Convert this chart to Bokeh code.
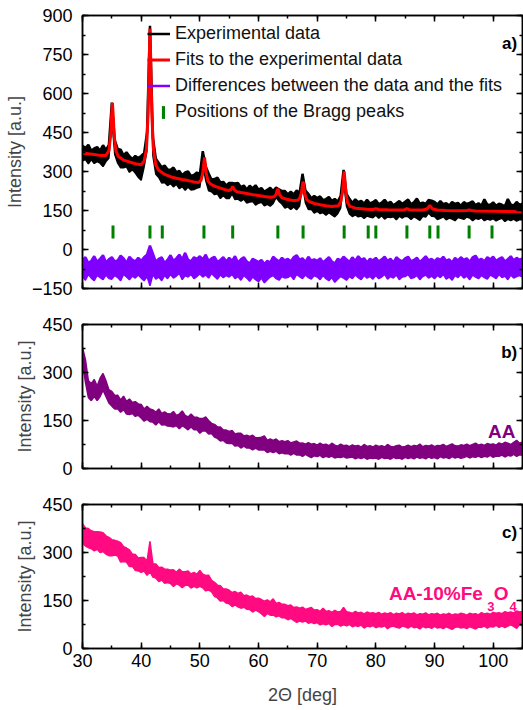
import numpy as np
from bokeh.plotting import figure
from bokeh.models import (Range1d, SingleIntervalTicker, LinearAxis, Legend,
                          LegendItem, Label, ColumnDataSource,
                          CustomLabelingPolicy)
from bokeh.layouts import column
from bokeh.embed import file_html
from bokeh.resources import INLINE

FONT = "Liberation Sans"

# ---------------- data ----------------
two_theta = np.round(np.arange(30.0, 105.001, 0.5), 2)   # 151 sampling positions

# panel a: experimental data (upper / lower edge of the noisy trace)
exp_hi = [399, 390, 403, 380, 389, 394, 380, 401, 382, 403,
          565, 420, 387, 384, 362, 374, 359, 348, 360, 352,
          360, 370, 450, 860, 430, 349, 333, 316, 323, 308,
          306, 315, 297, 302, 286, 296, 300, 283, 287, 296,
          289, 378, 319, 292, 268, 271, 276, 258, 260, 246,
          256, 256, 254, 256, 240, 246, 231, 245, 235, 247,
          230, 236, 222, 230, 237, 225, 238, 231, 225, 225,
          212, 222, 212, 227, 217, 291, 227, 214, 197, 206,
          198, 204, 190, 194, 202, 187, 194, 184, 205, 306,
          214, 195, 179, 193, 182, 187, 176, 191, 177, 182,
          190, 174, 180, 191, 177, 183, 170, 178, 186, 175,
          184, 192, 174, 182, 196, 176, 180, 175, 190, 188,
          183, 173, 186, 174, 178, 169, 183, 175, 179, 168,
          182, 175, 179, 185, 170, 178, 168, 193, 173, 171,
          181, 168, 176, 172, 166, 194, 173, 169, 183, 171,
          177]
exp_lo = [341, 346, 330, 346, 331, 338, 332, 319, 338, 351,
          500, 365, 332, 314, 314, 318, 297, 307, 294, 278,
          266, 317, 382, 790, 360, 289, 277, 256, 258, 246,
          254, 241, 251, 234, 242, 228, 240, 229, 231, 236,
          239, 332, 265, 226, 222, 211, 214, 196, 208, 196,
          196, 214, 192, 194, 186, 194, 179, 183, 185, 171,
          178, 182, 168, 174, 167, 177, 200, 185, 175, 159,
          164, 154, 164, 153, 167, 249, 179, 154, 155, 140,
          148, 138, 142, 132, 142, 133, 126, 138, 159, 262,
          166, 137, 127, 133, 126, 129, 120, 129, 125, 122,
          132, 120, 130, 117, 125, 123, 126, 114, 128, 121,
          128, 126, 116, 126, 120, 112, 128, 125, 140, 128,
          127, 115, 120, 126, 114, 121, 117, 111, 123, 120,
          116, 125, 121, 111, 120, 116, 122, 111, 117, 113,
          119, 110, 116, 120, 108, 116, 111, 117, 109, 115,
          113]

# panel a: fit
fit_x = [30.0, 31.0, 32.0, 33.0, 34.0, 34.5, 34.8, 34.95, 35.1, 35.25,
         35.4, 35.7, 36.1, 37.0, 38.0, 39.0, 40.0, 40.5, 40.9, 41.2,
         41.35, 41.5, 41.65, 41.8, 42.1, 42.5, 43.0, 44.0, 45.0, 46.0,
         47.0, 48.0, 49.0, 49.8, 50.2, 50.5, 50.65, 50.8, 50.95, 51.1,
         51.4, 51.8, 52.5, 53.5, 54.5, 55.0, 55.3, 55.45, 55.6, 55.75,
         55.9, 56.3, 57.0, 58.0, 59.0, 60.0, 61.0, 62.0, 62.7, 63.0,
         63.15, 63.3, 63.45, 63.6, 64.0, 65.0, 66.0, 66.6, 67.0, 67.3,
         67.45, 67.6, 67.75, 67.9, 68.2, 68.6, 69.5, 70.5, 71.5, 72.5,
         73.6, 74.0, 74.3, 74.45, 74.6, 74.75, 74.9, 75.2, 75.6, 76.5,
         77.5, 78.5, 79.5, 80.0, 80.5, 82.0, 84.0, 84.9, 85.3, 85.7,
         86.5, 88.0, 88.7, 89.0, 89.2, 89.4, 89.7, 90.5, 92.0, 94.0,
         95.5, 95.9, 96.3, 97.0, 100.0, 102.0, 105.0]
fit_y = [371, 368, 365, 362, 362, 380, 440, 510, 564, 508,
         438, 378, 358, 344, 337, 330, 326, 340, 385, 530,
         705, 850, 705, 528, 385, 325, 305, 289, 280, 274,
         269, 265, 260, 258, 266, 294, 326, 354, 325, 292,
         263, 252, 244, 236, 229, 227, 230, 236, 242, 236,
         229, 222, 219, 215, 211, 208, 204, 201, 203, 212,
         225, 234, 224, 210, 199, 192, 188, 189, 196, 216,
         240, 262, 240, 214, 193, 185, 177, 172, 168, 165,
         168, 182, 217, 262, 300, 262, 216, 180, 166, 159,
         157, 155, 154, 157, 154, 153, 152, 153, 157, 153,
         152, 152, 156, 164, 170, 164, 156, 152, 150, 149,
         150, 152, 150, 148, 147, 146, 145]

# panel a: differences (upper / lower edge)
diff_hi = [-40, -30, -52, -44, -26, -48, -36, -22, -50, -38,
           -30, -46, -42, -24, -34, -52, -28, -40, -46, -32,
           -44, -30, -20, 15, -16, -48, -36, -30, -52, -40,
           -22, -44, -34, -20, -38, -13, -40, -46, -30, -36,
           -26, -38, -20, -44, -34, -28, -48, -40, -30, -46,
           -32, -44, -26, -50, -38, -30, -46, -54, -36, -42,
           -48, -40, -56, -44, -50, -28, -38, -46, -32, -42,
           -36, -46, -30, -22, -40, -34, -48, -28, -42, -38,
           -44, -34, -50, -40, -30, -46, -54, -36, -42, -28,
           -38, -48, -30, -44, -26, -40, -34, -50, -36, -42,
           -32, -46, -38, -28, -44, -36, -50, -30, -40, -46,
           -34, -28, -46, -40, -32, -48, -38, -26, -42, -36,
           -46, -34, -40, -28, -44, -38, -50, -32, -42, -30,
           -40, -34, -48, -30, -24, -42, -36, -46, -30, -38,
           -28, -44, -36, -30, -46, -38, -26, -42, -32, -40,
           -34]
diff_lo = [-104, -118, -96, -110, -120, -100, -108, -116, -98, -112,
           -114, -100, -108, -120, -96, -106, -116, -102, -110, -98,
           -110, -120, -104, -140, -96, -114, -106, -120, -100, -112,
           -96, -110, -102, -92, -116, -100, -106, -96, -112, -104,
           -94, -106, -98, -110, -92, -104, -114, -98, -108, -100,
           -106, -96, -112, -104, -118, -100, -110, -122, -106, -116,
           -124, -110, -128, -116, -106, -100, -112, -118, -104, -110,
           -108, -100, -116, -96, -104, -112, -98, -108, -114, -100,
           -106, -116, -100, -112, -120, -108, -126, -114, -104, -110,
           -118, -104, -112, -98, -108, -116, -100, -110, -104, -114,
           -100, -112, -106, -96, -114, -104, -110, -98, -116, -106,
           -104, -96, -112, -108, -100, -116, -104, -98, -110, -102,
           -112, -100, -108, -96, -114, -106, -118, -100, -108, -96,
           -110, -102, -116, -98, -106, -112, -100, -108, -114, -98,
           -104, -112, -96, -108, -102, -116, -98, -110, -104, -100,
           -106]

# panel a: Bragg peak positions
bragg_pos = [35.2, 41.5, 43.6, 50.7, 55.6, 63.3, 67.6, 74.6, 78.7, 80.0,
             85.3, 89.2, 90.6, 95.9, 99.8]
bragg_level = 67

# panel b: AA (upper / lower edge)
aa_hi = [378, 340, 275, 265, 278, 258, 282, 297, 274, 246,
         241, 228, 229, 214, 226, 210, 217, 206, 209, 202,
         200, 186, 194, 186, 183, 176, 186, 172, 177, 171,
         170, 178, 166, 170, 180, 166, 161, 170, 161, 160,
         156, 156, 161, 150, 141, 138, 130, 130, 120, 120,
         116, 119, 108, 110, 110, 102, 104, 100, 104, 96,
         96, 98, 102, 88, 92, 88, 92, 84, 87, 84,
         87, 80, 83, 86, 79, 80, 76, 81, 76, 78,
         73, 79, 74, 76, 71, 79, 73, 70, 76, 71,
         73, 68, 74, 70, 72, 67, 75, 69, 71, 67,
         73, 69, 71, 67, 75, 69, 67, 71, 73, 67,
         69, 73, 68, 72, 70, 76, 68, 72, 70, 74,
         68, 72, 71, 75, 69, 73, 77, 71, 70, 74,
         72, 76, 71, 75, 79, 73, 76, 72, 78, 75,
         77, 73, 80, 76, 82, 79, 75, 82, 88, 79,
         83]
aa_lo = [330, 270, 222, 212, 225, 212, 225, 245, 225, 205,
         195, 186, 187, 176, 184, 170, 169, 172, 163, 166,
         158, 148, 154, 146, 145, 136, 146, 136, 137, 133,
         132, 130, 134, 124, 134, 128, 121, 130, 121, 122,
         110, 118, 117, 108, 109, 98, 94, 86, 88, 80,
         78, 79, 70, 72, 64, 70, 64, 64, 58, 64,
         58, 58, 58, 50, 54, 50, 54, 46, 49, 46,
         47, 42, 47, 42, 43, 38, 44, 39, 34, 40,
         37, 41, 34, 38, 35, 39, 33, 36, 34, 37,
         33, 34, 36, 30, 34, 31, 35, 29, 33, 31,
         33, 29, 35, 31, 33, 29, 35, 31, 33, 29,
         35, 31, 34, 30, 36, 32, 34, 30, 36, 32,
         34, 30, 37, 33, 35, 31, 37, 33, 36, 32,
         34, 38, 33, 37, 35, 39, 34, 38, 36, 41,
         35, 39, 38, 42, 36, 41, 39, 44, 38, 43,
         41]

# panel c: AA-10%Fe3O4 (upper / lower edge)
fe_hi = [390, 377, 375, 368, 365, 365, 364, 362, 352, 347,
         340, 338, 335, 331, 318, 314, 308, 295, 294, 283,
         284, 284, 273, 335, 265, 264, 253, 254, 248, 248,
         245, 246, 238, 248, 240, 240, 242, 233, 238, 232,
         244, 232, 228, 229, 213, 207, 198, 196, 186, 186,
         182, 175, 178, 172, 176, 165, 167, 162, 164, 156,
         157, 153, 148, 152, 146, 155, 141, 144, 138, 138,
         134, 136, 128, 130, 126, 129, 122, 125, 128, 120,
         121, 116, 126, 116, 118, 113, 119, 114, 116, 128,
         115, 113, 110, 116, 111, 113, 108, 114, 110, 112,
         109, 113, 107, 111, 108, 112, 106, 110, 108, 112,
         106, 110, 108, 111, 105, 109, 107, 111, 105, 109,
         107, 110, 104, 108, 106, 110, 104, 108, 106, 110,
         108, 104, 110, 107, 109, 105, 112, 108, 110, 107,
         113, 110, 112, 109, 115, 112, 114, 111, 117, 114,
         116]
fe_lo = [330, 320, 315, 312, 305, 310, 300, 303, 295, 290,
         290, 292, 289, 270, 272, 270, 256, 257, 244, 243,
         238, 242, 229, 240, 223, 220, 209, 214, 204, 206,
         203, 194, 202, 198, 190, 198, 198, 189, 194, 190,
         194, 190, 180, 183, 177, 163, 158, 148, 150, 142,
         140, 131, 136, 130, 126, 129, 123, 122, 114, 120,
         115, 109, 100, 110, 104, 105, 99, 102, 96, 96,
         90, 94, 88, 82, 86, 83, 86, 79, 82, 78,
         81, 74, 77, 74, 78, 69, 75, 76, 70, 74,
         71, 75, 68, 72, 69, 73, 64, 70, 68, 72,
         65, 69, 67, 71, 62, 68, 70, 66, 64, 70,
         68, 64, 70, 65, 67, 61, 69, 65, 67, 63,
         69, 64, 66, 62, 68, 64, 60, 66, 68, 64,
         66, 62, 68, 65, 61, 67, 66, 70, 64, 69,
         67, 72, 66, 71, 65, 70, 74, 69, 63, 74,
         70]

for arr in (exp_hi, exp_lo, diff_hi, diff_lo, aa_hi, aa_lo, fe_hi, fe_lo):
    assert len(arr) == len(two_theta), len(arr)
assert len(fit_x) == len(fit_y), (len(fit_x), len(fit_y))

legend_labels = ["Experimental data", "Fits to the experimental data",
                 "Differences between the data and the fits",
                 "Positions of the Bragg peaks"]

# ---------------- styling helpers ----------------
C_EXP = "#000000"
C_FIT = "#ff0000"
C_DIFF = "#7f00ff"
C_BRAGG = "#008000"
C_AA = "#800080"
C_FE = "#ff0a80"

NO_LABELS = CustomLabelingPolicy(code="return []")


def make_panel(ymin, ymax, frame_h, top, bottom, show_x):
    p = figure(frame_width=440, frame_height=frame_h,
               x_range=Range1d(30, 105), y_range=Range1d(ymin, ymax),
               output_backend="svg", toolbar_location=None,
               x_axis_type=None, y_axis_type=None,
               min_border_left=82, min_border_right=0,
               min_border_top=top, min_border_bottom=bottom,
               background_fill_color="white", border_fill_color="white")
    p.outline_line_color = "black"
    p.outline_line_width = 1.5
    p.xgrid.visible = False
    p.ygrid.visible = False
    xt = SingleIntervalTicker(interval=10, num_minor_ticks=2)
    yt = SingleIntervalTicker(interval=150, num_minor_ticks=2)
    for loc, ticker, labels in [("below", xt, show_x), ("above", xt, False),
                                ("left", yt, True), ("right", yt, False)]:
        ax = LinearAxis(ticker=ticker)
        ax.major_tick_in = 6
        ax.major_tick_out = 0
        ax.minor_tick_in = 3
        ax.minor_tick_out = 0
        ax.axis_line_width = 1.5
        ax.major_tick_line_width = 1.5
        ax.minor_tick_line_width = 1.5
        ax.major_label_text_font = FONT
        ax.major_label_text_color = "black"
        if labels:
            ax.major_label_text_font_size = "18px"
            ax.major_label_standoff = 10 if loc == "left" else 5
        else:
            ax.major_label_policy = NO_LABELS
            ax.major_label_text_font_size = "1px"
            ax.major_label_standoff = 0
        if loc == "left":
            ax.axis_label = "Intensity [a.u.]"
            ax.axis_label_text_font = FONT
            ax.axis_label_text_font_size = "18px"
            ax.axis_label_text_font_style = "normal"
            ax.axis_label_standoff = 4
        if loc == "below" and show_x:
            ax.axis_label = "2\u0398 [deg]"
            ax.axis_label_text_font = FONT
            ax.axis_label_text_font_size = "18px"
            ax.axis_label_text_font_style = "normal"
            ax.axis_label_standoff = 15
        p.add_layout(ax, loc)
    return p


def tag(p, x, y, text, size="17px", color="black", align="right"):
    p.add_layout(Label(x=x, y=y, text=text, text_align=align,
                       text_baseline="alphabetic", text_font=FONT,
                       text_font_style="bold", text_font_size=size,
                       text_color=color))


def legend_box(items, loc, gw, gh, standoff):
    return Legend(items=items, location=loc, orientation="vertical",
                  border_line_color=None, background_fill_alpha=0,
                  padding=0, margin=0, spacing=5,
                  glyph_width=gw, glyph_height=gh, label_height=21,
                  label_standoff=standoff, label_text_font=FONT,
                  label_text_font_size="18px", label_text_color="#111111")


# ---------------- panel a ----------------
pa = make_panel(-150, 900, 273, 15, 18, False)
src = ColumnDataSource(dict(x=two_theta, hi=exp_hi, lo=exp_lo,
                            dhi=diff_hi, dlo=diff_lo))
pa.varea(x="x", y1="lo", y2="hi", source=src, fill_color=C_EXP)
r_exp = pa.line("x", "hi", source=src, line_color=C_EXP, line_width=2.5)
pa.line("x", "lo", source=src, line_color=C_EXP, line_width=1.5)
r_fit = pa.line(fit_x, fit_y, line_color=C_FIT, line_width=3)
pa.varea(x="x", y1="dlo", y2="dhi", source=src, fill_color=C_DIFF)
r_diff = pa.line("x", "dhi", source=src, line_color=C_DIFF, line_width=2.5)
pa.line("x", "dlo", source=src, line_color=C_DIFF, line_width=1.5)
r_bragg = pa.rect(x=bragg_pos, y=[bragg_level] * len(bragg_pos),
                  width=3, height=13, width_units="screen",
                  height_units="screen", fill_color=C_BRAGG, line_color=None)

pa.add_layout(legend_box([LegendItem(label=legend_labels[0], renderers=[r_exp]),
                          LegendItem(label=legend_labels[1], renderers=[r_fit]),
                          LegendItem(label=legend_labels[2], renderers=[r_diff])],
                         (65, 192), 23, 21, 5))
pa.add_layout(legend_box([LegendItem(label=legend_labels[3], renderers=[r_bragg])],
                         (79, 166), 4, 16, 10))
tag(pa, 104.1, 793, "a)")

# ---------------- panel b ----------------
pb = make_panel(0, 450, 144, 18, 18, False)
srcb = ColumnDataSource(dict(x=two_theta, hi=aa_hi, lo=aa_lo))
pb.varea(x="x", y1="lo", y2="hi", source=srcb, fill_color=C_AA)
pb.line("x", "hi", source=srcb, line_color=C_AA, line_width=1.5)
pb.line("x", "lo", source=srcb, line_color=C_AA, line_width=1.5)
tag(pb, 104.1, 362, "b)")
tag(pb, 103.8, 117, "AA", size="19px", color=C_AA)

# ---------------- panel c ----------------
pc = make_panel(0, 450, 144, 18, 62, True)
srcc = ColumnDataSource(dict(x=two_theta, hi=fe_hi, lo=fe_lo))
pc.varea(x="x", y1="lo", y2="hi", source=srcc, fill_color=C_FE)
pc.line("x", "hi", source=srcc, line_color=C_FE, line_width=1.5)
pc.line("x", "lo", source=srcc, line_color=C_FE, line_width=1.5)
tag(pc, 104.1, 363, "c)")
# "AA-10%Fe3O4" with subscripts, each piece anchored on its own
tag(pc, 98.25, 171, "AA-10%Fe", size="19px", color=C_FE)
tag(pc, 99.0, 130, "3", size="13px", color=C_FE, align="left")
tag(pc, 102.6, 171, "O", size="19px", color=C_FE, align="right")
tag(pc, 102.8, 130, "4", size="13px", color=C_FE, align="left")

layout = column(pa, pb, pc, spacing=0)
open("out.html", "w").write(file_html(layout, INLINE))
